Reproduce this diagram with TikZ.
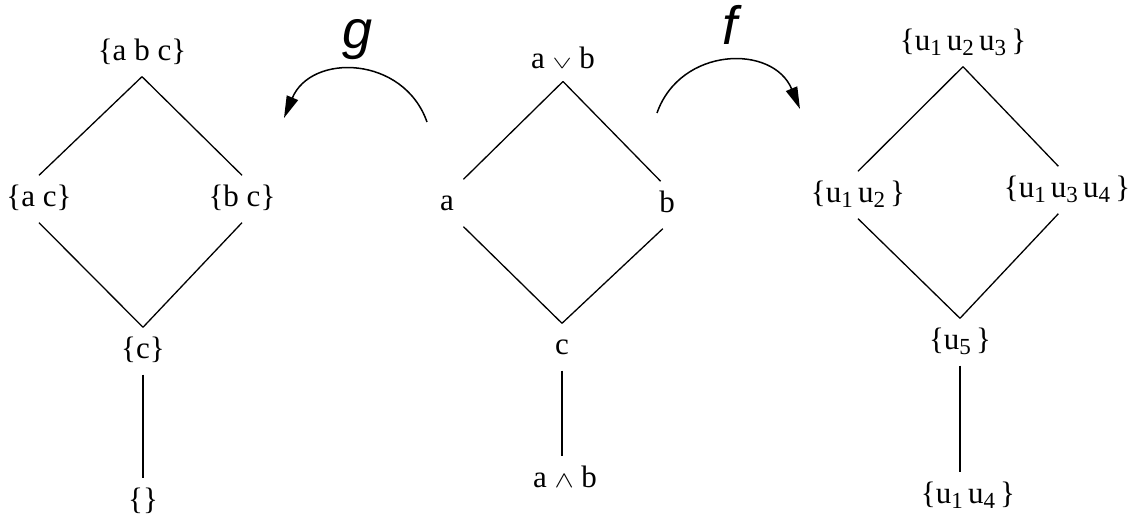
\documentclass[tikz,border=0pt]{standalone}
\usepackage{fontspec}
\setmainfont{Liberation Serif}
\newfontfamily\mapfont{Liberation Sans}
\usepackage{graphicx}
\usepackage{tikz}
\usetikzlibrary{arrows.meta}

\newcommand{\ix}[1]{\raisebox{-2.6pt}{\fontsize{11.5}{11.5}\selectfont #1}}
\newcommand{\joinop}{\scalebox{1}[0.6]{$\vee$}}
\newcommand{\meetop}{\scalebox{1}[0.8]{$\wedge$}}

\begin{document}
\begin{tikzpicture}[x=0.5pt, y=0.5pt,
    lbl/.style={inner xsep=4.6pt, inner ysep=4.6pt, text height=10.7pt, text depth=3.4pt,
        font=\fontsize{15.5}{18}\selectfont},
    edge/.style={line width=0.65pt},
    mapto/.style={line width=0.75pt, -{Triangle[length=11pt,width=6pt]}},
    maplbl/.style={anchor=base, inner sep=0pt, font=\mapfont\itshape\fontsize{27}{30}\selectfont}]
    \useasboundingbox (0,0) rectangle (1131,523);
    % Ensembles
    \node[lbl] (sabc) at (142,470) {\{a b c\}};
    \node[lbl] (sac) at (39,324) {\{a c\}};
    \node[lbl] (sbc) at (242,324) {\{b c\}};
    \node[lbl] (sc) at (143,172) {\{c\}};
    \node[lbl] (sempty) at (143,21) {\{\}};
    \draw[edge] (sabc.south) -- (sac.north);
    \draw[edge] (sabc.south) -- (sbc.north);
    \draw[edge] (sac.south) -- (sc.north);
    \draw[edge] (sbc.south) -- (sc.north);
    \draw[edge] (sc.south) -- (sc.south |- sempty.north);
    % Treillis
    \node[lbl, inner ysep=3pt] (join) at (563,462) {a \joinop{} b};
    \node[lbl] (ea) at (447,320) {a};
    \node[lbl] (eb) at (667,318) {b};
    \node[lbl] (ec) at (562,176) {c};
    \node[lbl] (meet) at (565,43) {a \meetop{} b};
    \draw[edge] (join.south) -- (ea.north east);
    \draw[edge] (join.south) -- (eb.105);
    \draw[edge] (ea.south east) -- (ec.north);
    \draw[edge] (eb.260) -- (ec.north);
    \draw[edge] (ec.south) -- (ec.south |- meet.north);
    % Ensembles de u
    \node[lbl] (u123) at (963,480) {\{u\ix{1}\,u\ix{2}\,u\ix{3}\,\}};
    \node[lbl] (u12) at (858,328) {\{u\ix{1}\,u\ix{2}\,\}};
    \node[lbl] (u134) at (1067,333) {\{u\ix{1}\,u\ix{3}\,u\ix{4}\,\}};
    \node[lbl] (u5) at (960,181) {\{u\ix{5}\,\}};
    \node[lbl] (u14) at (968,27) {\{u\ix{1}\,u\ix{4}\,\}};
    \draw[edge] (u123.south) -- (u12.north);
    \draw[edge] (u123.south) -- (u134.110);
    \draw[edge] (u12.south) -- (u5.north);
    \draw[edge] (u134.250) -- (u5.north);
    \draw[edge] (u5.south) -- (u5.south |- u14.north);
    % Applications g et f
    \coordinate (gs) at (427,401);
    \coordinate (ge) at (284,405);
    \draw[mapto] (gs) to[bend right=69, looseness=1.26] (ge);
    \node[maplbl] (g) at (358,474) {g};
    \coordinate (fs) at (657,410);
    \coordinate (fe) at (800,414);
    \draw[mapto] (fs) to[bend left=69, looseness=1.26] (fe);
    \node[maplbl] (f) at (730,478) {f};
\end{tikzpicture}
\end{document}
